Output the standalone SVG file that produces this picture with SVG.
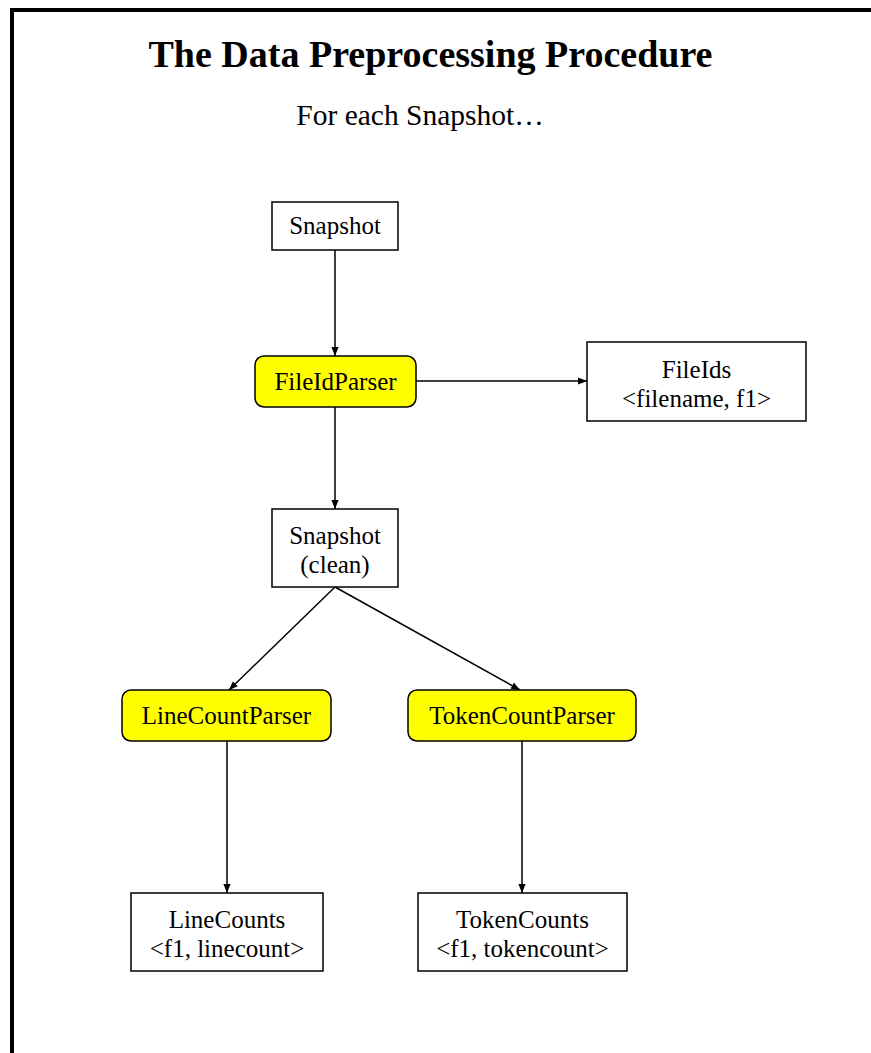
<svg xmlns="http://www.w3.org/2000/svg" width="871" height="1053" viewBox="0 0 871 1053">
  <style>
    text { font-family: "Liberation Serif", "Times New Roman", serif; fill: #000; text-anchor: middle; }
    .title { font-size: 38px; font-weight: bold; }
    .sub { font-size: 29.5px; }
    .lbl { font-size: 25px; }
    .data { fill: #fff; stroke: #000; stroke-width: 1.5; }
    .proc { fill: #ffff00; stroke: #000; stroke-width: 1.5; }
    .edge { stroke: #000; stroke-width: 1.5; fill: none; marker-end: url(#arrow); }
  </style>
  <defs>
    <marker id="arrow" viewBox="0 0 10 10" refX="10" refY="5" markerWidth="9" markerHeight="9" markerUnits="userSpaceOnUse" orient="auto">
      <path d="M0,1 L10,5 L0,9 Z" fill="#000"/>
    </marker>
  </defs>

  <rect width="871" height="1053" fill="#fff"/>
  <!-- frame: top and left edges only -->
  <path d="M12,1053 V10 H871" stroke="#000" stroke-width="4" fill="none"/>

  <text class="title" x="430.5" y="67">The Data Preprocessing Procedure</text>
  <text class="sub" x="420" y="125">For each Snapshot…</text>

  <g id="connectors">
    <line class="edge" x1="335" y1="250" x2="335" y2="356"/>
    <line class="edge" x1="416" y1="381" x2="587" y2="381"/>
    <line class="edge" x1="335" y1="407" x2="335" y2="509"/>
    <line class="edge" x1="335" y1="587" x2="229" y2="690"/>
    <line class="edge" x1="335" y1="587" x2="520" y2="690"/>
    <line class="edge" x1="227" y1="741" x2="227" y2="893"/>
    <line class="edge" x1="522" y1="741" x2="522" y2="893"/>
  </g>

  <g id="snapshot">
    <rect class="data" x="272" y="202" width="126" height="48"/>
    <text class="lbl" x="335" y="234">Snapshot</text>
  </g>

  <g id="fileIdParser">
    <rect class="proc" x="255" y="356" width="161" height="51" rx="9"/>
    <text class="lbl" x="335.5" y="390">FileIdParser</text>
  </g>

  <g id="fileIds">
    <rect class="data" x="587" y="342" width="219" height="79"/>
    <text class="lbl" x="696.5" y="378">FileIds</text>
    <text class="lbl" x="696.5" y="407">&lt;filename, f1&gt;</text>
  </g>

  <g id="snapshotClean">
    <rect class="data" x="272" y="509" width="126" height="78"/>
    <text class="lbl" x="335" y="544">Snapshot</text>
    <text class="lbl" x="335" y="573">(clean)</text>
  </g>

  <g id="lineCountParser">
    <rect class="proc" x="122" y="690" width="209" height="51" rx="9"/>
    <text class="lbl" x="226.5" y="724">LineCountParser</text>
  </g>

  <g id="tokenCountParser">
    <rect class="proc" x="408" y="690" width="228" height="51" rx="9"/>
    <text class="lbl" x="522" y="724">TokenCountParser</text>
  </g>

  <g id="lineCounts">
    <rect class="data" x="131" y="893" width="192" height="78"/>
    <text class="lbl" x="227" y="928">LineCounts</text>
    <text class="lbl" x="227" y="957">&lt;f1, linecount&gt;</text>
  </g>

  <g id="tokenCounts">
    <rect class="data" x="418" y="893" width="209" height="78"/>
    <text class="lbl" x="522.5" y="928">TokenCounts</text>
    <text class="lbl" x="522.5" y="957">&lt;f1, tokencount&gt;</text>
  </g>
</svg>
